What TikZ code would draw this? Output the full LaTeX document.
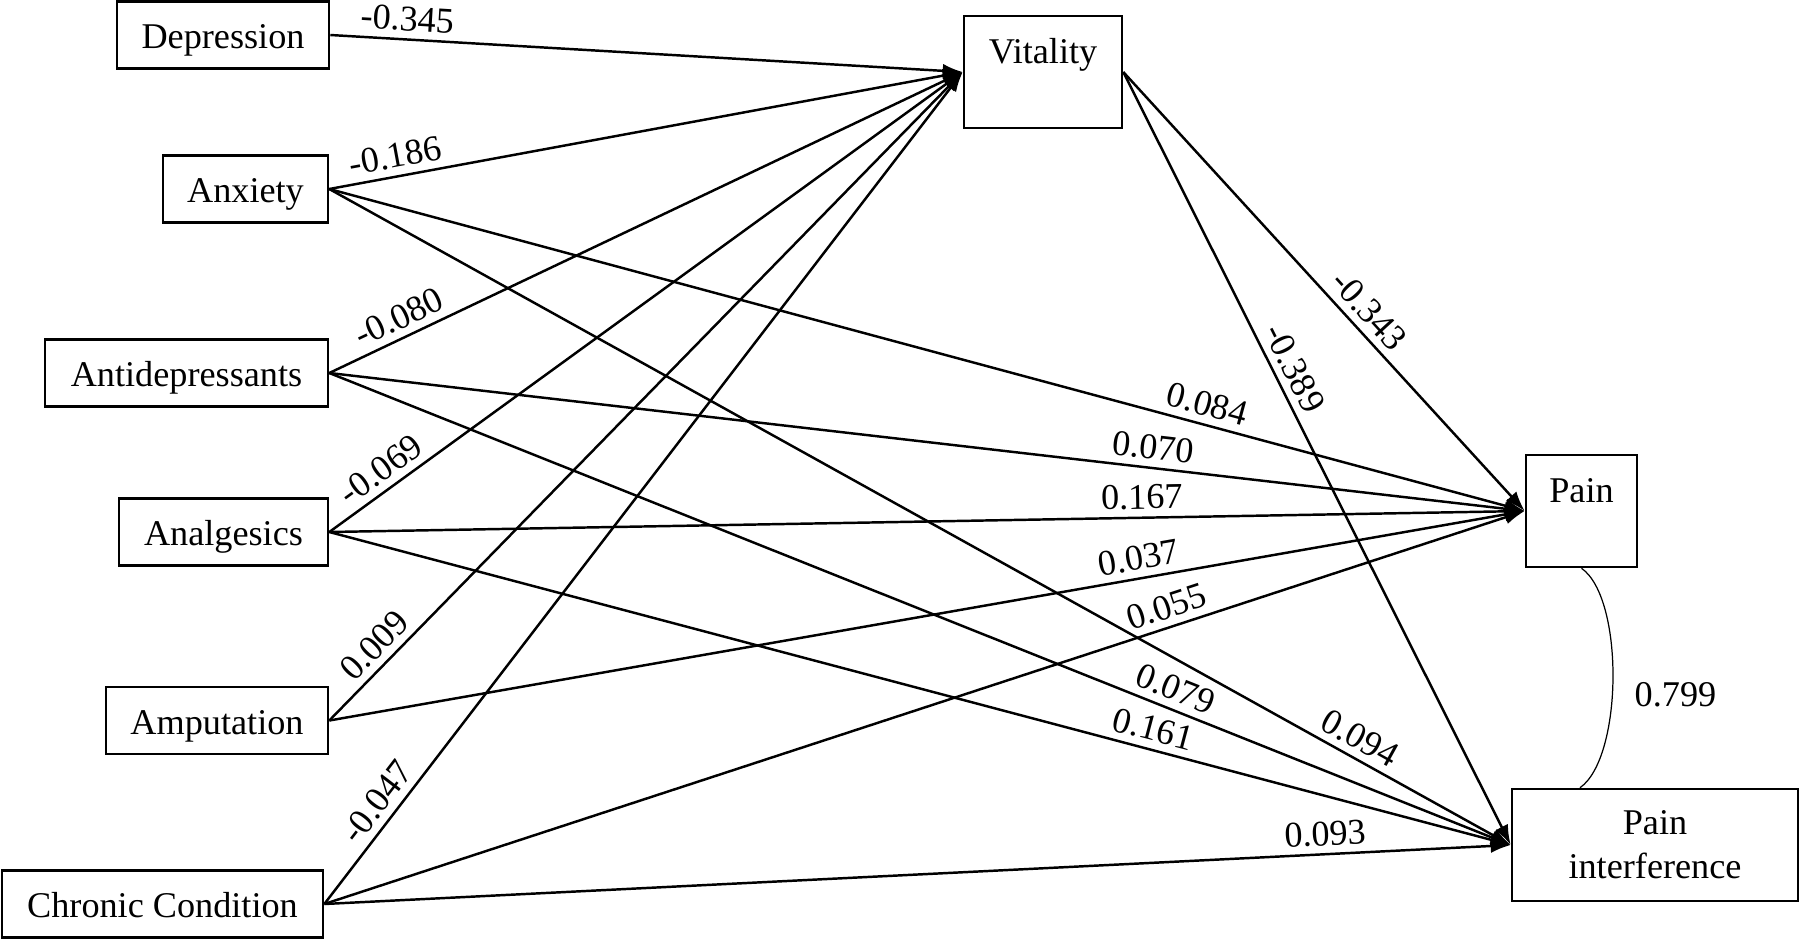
\documentclass[tikz,border=0pt]{standalone}
\usepackage{fontspec}
\setmainfont{Liberation Serif}
\usetikzlibrary{arrows.meta}
\usetikzlibrary{calc}

\begin{document}
\begin{tikzpicture}[x=0.01cm,y=-0.01cm,line width=0.7pt,>={Latex[length=2mm,width=1.4mm]},
  font=\fontsize{10.3}{12.5}\selectfont,
  box/.style={draw,rectangle,inner sep=0pt,text height=0.47cm,text depth=0.2cm},
  tallbox/.style={box,text depth=0.65cm},
  coef/.style={sloped,above,inner sep=2pt}]
\useasboundingbox (0,0) rectangle (1800,939);
% predictors
\draw node [box,minimum width=2.12cm] (Dep)   at (223,35)    {Depression};
\draw node [box,minimum width=1.65cm] (Anx)   at (245.5,189) {Anxiety};
\draw node [box,minimum width=2.83cm] (Antid) at (186.5,373) {Antidepressants};
\draw node [box,minimum width=2.09cm] (Anal)  at (223.5,532) {Analgesics};
\draw node [box,minimum width=2.22cm] (Amp)   at (217,720.5) {Amputation};
\draw node [box,minimum width=3.21cm] (Chr)   at (162.5,904) {Chronic Condition};
% outcomes
\draw node [tallbox,minimum width=1.58cm] (Vit)  at (1043,72)    {Vitality};
\draw node [tallbox,minimum width=1.11cm] (Pain) at (1581.5,511) {Pain};
\draw node [draw,rectangle,inner sep=0pt,minimum width=2.86cm,minimum height=1.12cm,align=center] (PInt) at (1655,845) {Pain\\interference};
% paths to vitality
\draw [->] (Dep.east)   -- node [coef,pos=.12]  {-0.345} (Vit.west);
\draw [->] (Anx.east)   -- node [coef,pos=.11]  {-0.186} (Vit.west);
\draw [->] (Antid.east) -- node [coef,pos=.124] {-0.080} (Vit.west);
\draw [->] (Anal.east)  -- node [coef,pos=.10]  {-0.069} (Vit.west);
\draw [->] (Amp.east)   -- node [coef,pos=.094] {0.009}  (Vit.west);
\draw [->] (Chr.east)   -- node [coef,pos=.108] {-0.047} (Vit.west);
% paths to pain
\draw [->] (Vit.east)   -- node [coef,pos=.575] {-0.343} (Pain.west);
\draw [->] (Anx.east)   -- node [coef,pos=.73]  {0.084}  (Pain.west);
\draw [->] (Antid.east) -- node [coef,pos=.687] {0.070}  (Pain.west);
\draw [->] (Anal.east)  -- node [coef,pos=.68]  {0.167}  (Pain.west);
\draw [->] (Amp.east)   -- node [coef,pos=.68]  {0.037}  (Pain.west);
\draw [->] (Chr.east)   -- node [coef,pos=.707] {0.055}  (Pain.west);
% paths to pain interference
\draw [->] (Vit.east)   -- node [coef,pos=.395] {-0.389} (PInt.west);
\draw [->] (Anx.east)   -- node [coef,pos=.864] {0.094}  (PInt.west);
\draw [->] (Antid.east) -- node [coef,pos=.71]  {0.079}  (PInt.west);
\draw [->] (Anal.east)  -- node [coef,pos=.693] {0.161}  (PInt.west);
\draw [->] (Chr.east)   -- node [coef,pos=.845] {0.093}  (PInt.west);
% covariance
\draw [line width=0.35pt] (Pain.south) .. controls +(43,30) and +(43,-30) .. ($(PInt.north west)!.24!(PInt.north east)$) node [pos=.56,right,xshift=1mm] {0.799};
\end{tikzpicture}
\end{document}
